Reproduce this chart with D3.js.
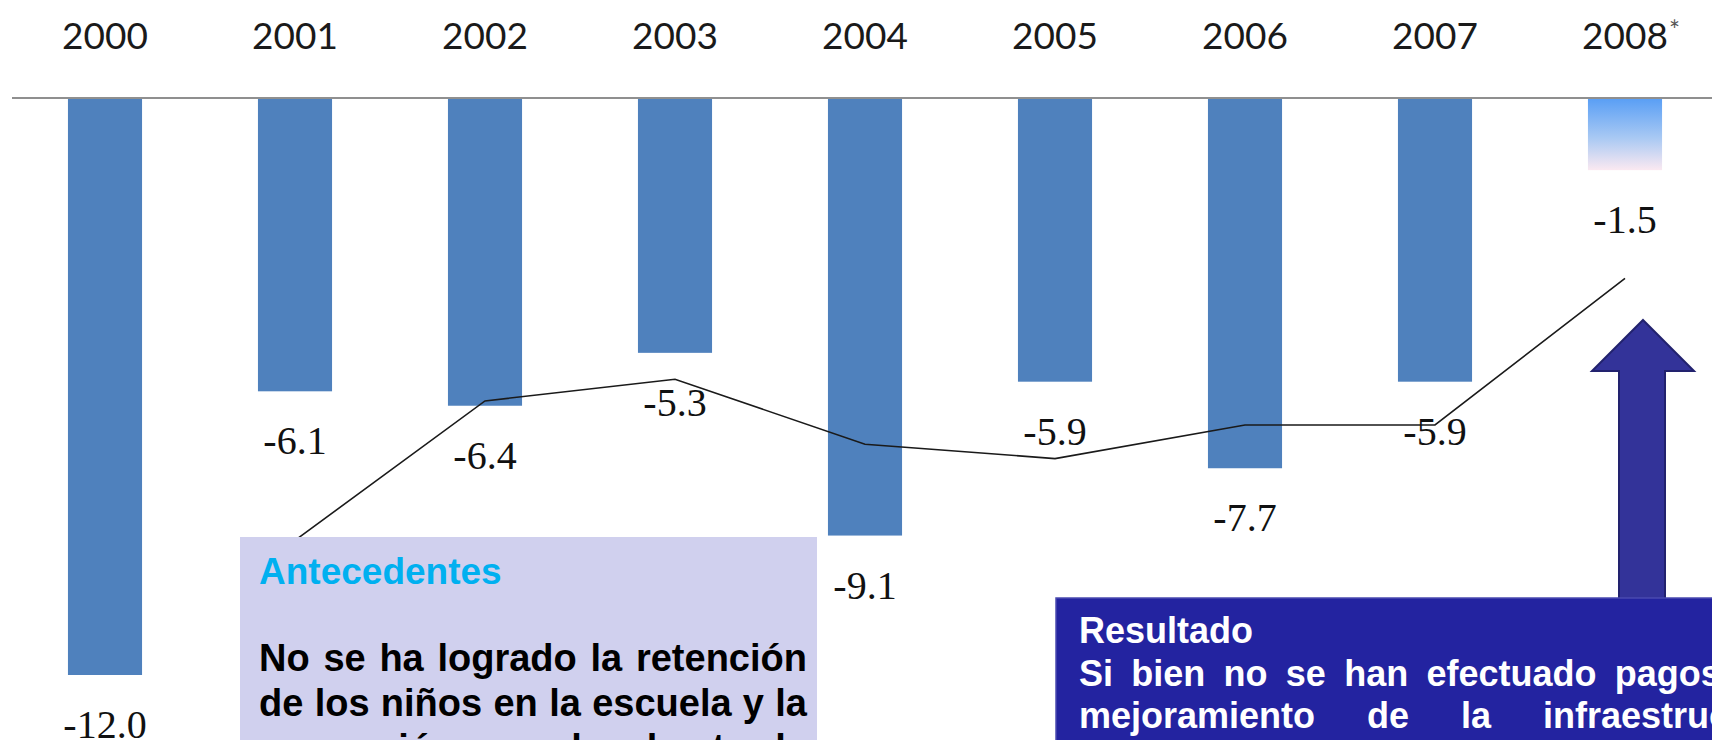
<!DOCTYPE html>
<html>
<head>
<meta charset="utf-8">
<script src="https://cdn.jsdelivr.net/npm/d3@7"></script>
<style>
  html, body { margin: 0; padding: 0; background: #fff; overflow: hidden; }
</style>
</head>
<body>
<svg id="chart" width="1712" height="740"></svg>
<script>
// data
var years = ["2000", "2001", "2002", "2003", "2004", "2005", "2006", "2007", "2008"];
var balance = [-12.0, -6.1, -6.4, -5.3, -9.1, -5.9, -7.7, -5.9, -1.5];
var estimatedYears = ["2008"];
var trendYears = ["2001", "2002", "2003", "2004", "2005", "2006", "2007", "2008"];
var trendValues = [-9.2, -6.3, -5.85, -7.2, -7.5, -6.8, -6.8, -3.75];

var antecedentesTitle = "Antecedentes";
var antecedentesLines = [
    "No se ha logrado la retención",
    "de los niños en la escuela y la",
    "promoción escolar hasta la"
];
var resultadoTitle = "Resultado";
var resultadoLines = [
    "Si bien no se han efectuado pagos por",
    "mejoramiento de la infraestructura"
];

var W = 1712, H = 740;
var svg = d3.select("#chart");

var x = d3.scaleBand().domain(years).range([10, 1720]).paddingInner(0.61).paddingOuter(0.305);
var y = d3.scaleLinear().domain([0, -12]).range([98, 675]);
var fmt = d3.format(".1f");

var defs = svg.append("defs");
var grad = defs.append("linearGradient").attr("id", "estGrad")
    .attr("x1", 0).attr("y1", 0).attr("x2", 0).attr("y2", 1);
grad.append("stop").attr("offset", "0%").attr("stop-color", "#5a9ff5");
grad.append("stop").attr("offset", "55%").attr("stop-color", "#a9c9f3");
grad.append("stop").attr("offset", "100%").attr("stop-color", "#fbe9f1");

// year labels on top
var yearG = svg.append("g").attr("class", "years");
years.forEach(function(yr) {
    var cx = x(yr) + x.bandwidth() / 2;
    var t = yearG.append("text")
        .attr("x", cx).attr("y", 49)
        .attr("text-anchor", "middle")
        .style("font-family", "Lato, 'Open Sans', sans-serif")
        .style("font-size", "37px")
        .attr("fill", "#1a1a1a")
        .text(yr);
    if (estimatedYears.indexOf(yr) >= 0) {
        var w = t.node().getComputedTextLength();
        yearG.append("text")
            .attr("x", cx + w / 2 + 1).attr("y", 40)
            .style("font-family", "Lato, sans-serif")
            .style("font-size", "26px")
            .attr("fill", "#555")
            .text("*");
    }
});

// zero line
svg.append("line")
    .attr("x1", 12).attr("x2", W)
    .attr("y1", y(0)).attr("y2", y(0))
    .attr("stroke", "#8f8f8f").attr("stroke-width", 2);

// bars
svg.append("g").selectAll("rect")
    .data(years)
    .join("rect")
    .attr("x", function(d) { return x(d); })
    .attr("y", y(0) + 1)
    .attr("width", x.bandwidth())
    .attr("height", function(d, i) { return y(balance[i]) - y(0) - 1; })
    .attr("fill", function(d) { return estimatedYears.indexOf(d) >= 0 ? "url(#estGrad)" : "#4f81bd"; });

// trend line
var line = d3.line()
    .x(function(d) { return x(d[0]) + x.bandwidth() / 2; })
    .y(function(d) { return y(d[1]); });
svg.append("path")
    .datum(trendYears.map(function(d, i) { return [d, trendValues[i]]; }))
    .attr("d", line)
    .attr("fill", "none")
    .attr("stroke", "#1a1a1a")
    .attr("stroke-width", 1.6);

// value labels
svg.append("g").selectAll("text")
    .data(years)
    .join("text")
    .attr("x", function(d) { return x(d) + x.bandwidth() / 2; })
    .attr("y", function(d, i) { return y(balance[i]) + 63; })
    .attr("text-anchor", "middle")
    .style("font-family", "'Liberation Serif', 'Times New Roman', serif")
    .style("font-size", "40px")
    .attr("fill", "#111")
    .text(function(d, i) { return fmt(balance[i]).replace("−", "-"); });

// justified text block helper
var drawBlock = function(g, lines, opts) {
    lines.forEach(function(txt, i) {
        var t = g.append("text")
            .attr("x", opts.x).attr("y", opts.y0 + i * opts.lh)
            .style("font-family", "'Liberation Sans', Arial, sans-serif")
            .style("font-weight", "bold")
            .style("font-size", opts.size + "px")
            .attr("fill", opts.color)
            .text(txt);
        var gaps = txt.split(" ").length - 1;
        var natural = t.node().getComputedTextLength();
        if (gaps > 0 && natural < opts.width) {
            t.style("word-spacing", ((opts.width - natural) / gaps) + "px");
        }
    });
};

// Antecedentes box
var boxA = svg.append("g");
boxA.append("rect")
    .attr("x", 240).attr("y", 537).attr("width", 577).attr("height", 260)
    .attr("fill", "#d0d0ee");
boxA.append("text")
    .attr("x", 259).attr("y", 584)
    .style("font-family", "'Liberation Sans', Arial, sans-serif")
    .style("font-weight", "bold")
    .style("font-size", "37px")
    .attr("fill", "#00b0f0")
    .text(antecedentesTitle);
drawBlock(boxA, antecedentesLines, {x: 259, y0: 671, lh: 45, size: 38, width: 548, color: "#000"});

// arrow pointing at the 2008 estimate
svg.append("path")
    .attr("d", "M1643,320 L1694,371 L1665,371 L1665,599 L1619,599 L1619,371 L1592,371 Z")
    .attr("fill", "#333399")
    .attr("stroke", "#22226e")
    .attr("stroke-width", 2);

// Resultado box
var boxR = svg.append("g");
boxR.append("rect")
    .attr("x", 1056).attr("y", 598).attr("width", 800).attr("height", 200)
    .attr("fill", "#2323a0")
    .attr("stroke", "#4a4ab0").attr("stroke-width", 1.5);
boxR.append("text")
    .attr("x", 1079).attr("y", 643)
    .style("font-family", "'Liberation Sans', Arial, sans-serif")
    .style("font-weight", "bold")
    .style("font-size", "36px")
    .attr("fill", "#fff")
    .text(resultadoTitle);
drawBlock(boxR, resultadoLines, {x: 1079, y0: 686, lh: 42, size: 36, width: 718, color: "#fff"});
</script>
</body>
</html>
